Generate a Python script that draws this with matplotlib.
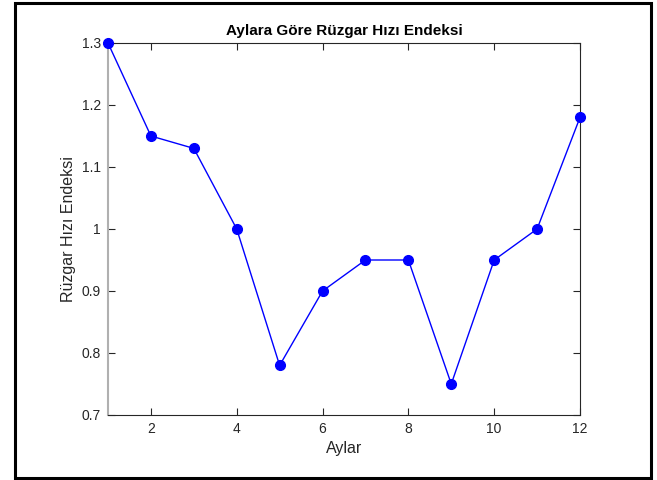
import matplotlib
matplotlib.use('Agg')
import matplotlib.pyplot as plt
from matplotlib.patches import Rectangle

plt.rcParams['font.family'] = ['Liberation Sans', 'DejaVu Sans']

aylar = [1, 2, 3, 4, 5, 6, 7, 8, 9, 10, 11, 12]
endeks = [1.30, 1.15, 1.13, 1.00, 0.78, 0.90, 0.95, 0.95, 0.75, 0.95, 1.00, 1.18]

fig = plt.figure(figsize=(6.57, 4.80), dpi=100)
ax = fig.add_axes([108 / 657, 1 - 415 / 480, 472 / 657, 372 / 480])

ax.plot(aylar, endeks, '-o', color='#0000ff', linewidth=1, markersize=7, clip_on=False, zorder=3)

ax.set_xlim(1, 12)
ax.set_ylim(0.7, 1.3)
ax.set_xticks([2, 4, 6, 8, 10, 12])
ax.set_yticks([0.7, 0.8, 0.9, 1.0, 1.1, 1.2, 1.3])
ax.set_yticklabels(['0.7', '0.8', '0.9', '1', '1.1', '1.2', '1.3'])
ax.tick_params(direction='in', length=5, width=0.8, colors='#262626', labelsize=10,
               top=True, right=True, pad=5)
for s in ['top', 'right', 'bottom']:
    ax.spines[s].set_color('#262626')
    ax.spines[s].set_linewidth(0.8)
ax.spines['left'].set_color('#b0b0b0')
ax.spines['left'].set_linewidth(1.5)

ax.set_title('Aylara Göre Rüzgar Hızı Endeksi', fontsize=11, fontweight='bold', pad=6)
ax.set_xlabel('Aylar', fontsize=11.5, color='#262626')
ax.set_ylabel('Rüzgar Hızı Endeksi', fontsize=11.5, color='#262626')

fig.patches.append(Rectangle((15 / 657, 2 / 480), 636 / 657, 475 / 480, transform=fig.transFigure,
                             fill=False, edgecolor='black', linewidth=2.2))

fig.savefig('out.png', dpi=100)
